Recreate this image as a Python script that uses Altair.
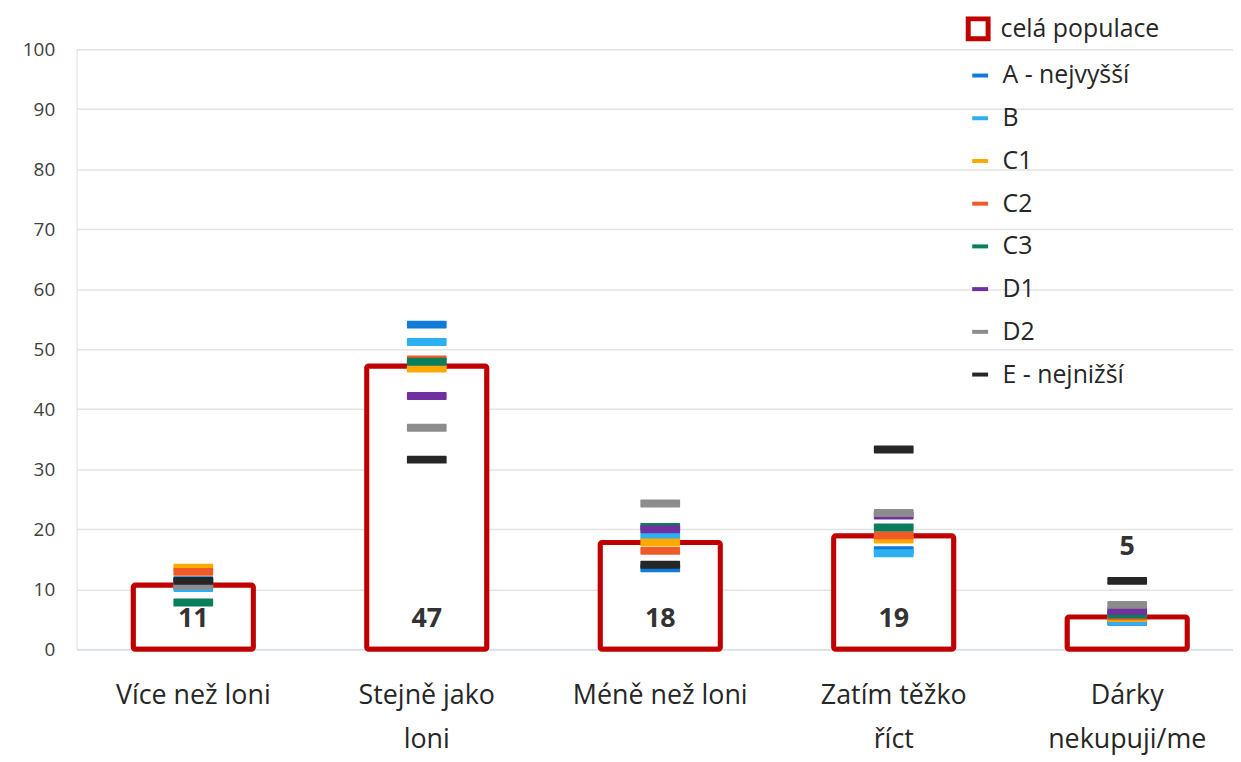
import altair as alt
import pandas as pd

categories = ["Více než loni", "Stejně jako\nloni", "Méně než loni", "Zatím těžko\nříct", "Dárky\nnekupuji/me"]
total = [10.7, 47.2, 17.8, 18.9, 5.4]

groups = ["A - nejvyšší", "B", "C1", "C2", "C3", "D1", "D2", "E - nejnižší"]
colors = ["#0F7AD8", "#2DB0F2", "#FFA800", "#F05A28", "#0A7E5A", "#7030A0", "#8C8C8C", "#262626"]
vals_A = [11.5, 54.1, 13.5, 16.5, 4.6]
vals_B = [10.2, 51.2, 18.9, 16.0, 4.7]
vals_C1 = [13.6, 46.8, 17.8, 18.3, 5.2]
vals_C2 = [12.9, 48.3, 16.4, 19.0, 5.5]
vals_C3 = [7.8, 47.9, 20.4, 20.3, 5.8]
vals_D1 = [11.2, 42.2, 20.0, 22.3, 6.4]
vals_D2 = [10.6, 36.9, 24.3, 22.7, 7.4]
vals_E = [11.4, 31.6, 14.1, 33.3, 11.4]
y_ticks = [0, 10, 20, 30, 40, 50, 60, 70, 80, 90, 100]

series_vals = [vals_A, vals_B, vals_C1, vals_C2, vals_C3, vals_D1, vals_D2, vals_E]

bar_df = pd.DataFrame({
    "cat": categories,
    "value": total,
    "series": ["celá populace"] * len(categories),
    "label": [str(round(v)) for v in total],
    "label_y": [5.1 if v >= 10 else v + 11.6 for v in total],
})

rows = []
for g, vals in zip(groups, series_vals):
    for c, v in zip(categories, vals):
        rows.append({"cat": c, "group": g, "value": v})
tick_df = pd.DataFrame(rows)

FONT = "Open Sans"
RED = "#C00000"

x_enc = alt.X(
    "cat:N", sort=categories,
    scale=alt.Scale(range=[0, 1175], paddingInner=0, paddingOuter=0),
    axis=alt.Axis(title=None, labelAngle=0, labelExpr="split(datum.label, '\\n')",
                  labelFontSize=27, labelFont=FONT, labelColor="#262626",
                  labelLineHeight=44, labelPadding=34, labelBaseline="top",
                  ticks=False, domainColor="#D6DEF0", domainWidth=1.5, grid=False),
)
y_scale = alt.Scale(domain=[0, 100], nice=False)

bar_core = alt.Chart(bar_df).mark_bar(
    fill="white", stroke=RED, strokeWidth=5, size=121, cornerRadius=2
).encode(
    x=x_enc,
    y=alt.Y("value:Q", scale=y_scale,
            axis=alt.Axis(title=None, values=y_ticks, labelFontSize=19, labelFont=FONT,
                          labelColor="#404040", ticks=False, domain=False, labelPadding=22,
                          gridColor="#E4E4E4", gridWidth=1.5)),
)

legend_layer = alt.Chart(bar_df).transform_filter("false").mark_square(
    filled=False, fill="white", strokeWidth=5, opacity=1
).encode(
    x=alt.X("cat:N", sort=categories),
    y=alt.Y("value:Q", scale=y_scale),
    stroke=alt.Stroke("series:N", scale=alt.Scale(domain=["celá populace"], range=[RED]),
                      legend=alt.Legend(orient="none", legendX=895, legendY=-33, title=None,
                                        symbolType="square", symbolSize=400, symbolStrokeWidth=5,
                                        symbolFillColor="white", symbolOpacity=1,
                                        labelFontSize=25, labelFont=FONT,
                                        labelColor="#262626", labelOffset=10)),
)

ticks = alt.Chart(tick_df).mark_tick(
    thickness=8, size=40, opacity=1, cornerRadius=1
).encode(
    x=alt.X("cat:N", sort=categories),
    y=alt.Y("value:Q", scale=y_scale),
    color=alt.Color("group:N", sort=groups, scale=alt.Scale(domain=groups, range=colors),
                    legend=alt.Legend(orient="none", legendX=897, legendY=14, title=None,
                                      symbolType="M-1,-0.25L1,-0.25L1,0.25L-1,0.25Z",
                                      symbolSize=256, symbolStrokeWidth=0,
                                      labelFontSize=25, labelFont=FONT, labelColor="#262626",
                                      labelOffset=10, rowPadding=17)),
)

texts = alt.Chart(bar_df).mark_text(
    fontSize=27, fontWeight="bold", color="#333333", font=FONT, baseline="middle"
).encode(
    x=alt.X("cat:N", sort=categories),
    y=alt.Y("label_y:Q", scale=y_scale),
    text="label:N",
)

chart = alt.layer(bar_core, legend_layer, ticks, texts).resolve_legend(color="independent", stroke="independent").properties(
    width=1164, height=604,
    autosize=alt.AutoSizeParams(type="none"),
    padding={"left": 69, "top": 39, "right": 0, "bottom": 110},
).configure_view(stroke=None).configure(background="white")

chart.save("out.html", embed_options={"renderer": "svg", "actions": False})
